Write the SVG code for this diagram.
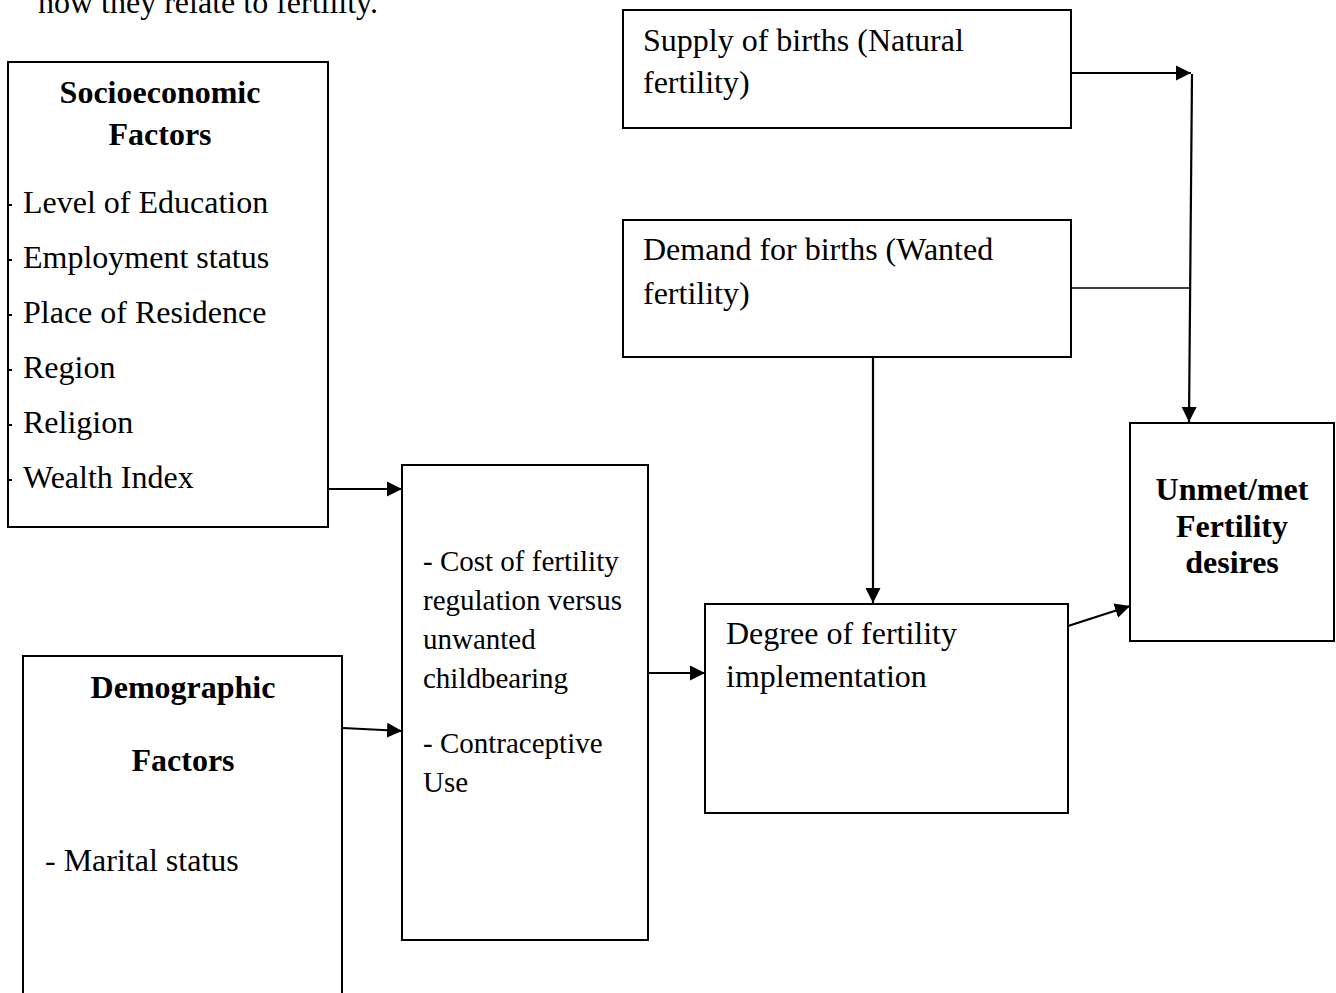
<svg xmlns="http://www.w3.org/2000/svg" width="1336" height="993" viewBox="0 0 1336 993">
<style>
.box{fill:#fff;stroke:#000;stroke-width:2}
.t{font-family:"Liberation Serif","Times New Roman",serif;font-size:32px;fill:#000}
.m{font-size:29px}
.b{font-weight:bold;text-anchor:middle}
.c{fill:none;stroke:#000;stroke-width:2.2}
</style>
<defs>
<marker id="ah" markerUnits="userSpaceOnUse" markerWidth="16" markerHeight="18" viewBox="0 0 16 18" refX="15" refY="9" orient="auto">
<path d="M0,1.5 L15,9 L0,16.5 Z" fill="#000"/>
</marker>
</defs>
<rect width="1336" height="993" fill="#fff"/>
<text class="t" x="38" y="13">how they relate to fertility.</text>

<g id="socioeconomic">
<rect class="box" x="8" y="62" width="320" height="465"/>
<text class="t b" x="160" y="103">Socioeconomic</text>
<text class="t b" x="160" y="145">Factors</text>
<g fill="#000">
<rect x="9" y="204" width="3" height="2"/>
<rect x="9" y="259" width="3" height="2"/>
<rect x="9" y="314" width="3" height="2"/>
<rect x="9" y="369" width="3" height="2"/>
<rect x="9" y="424" width="3" height="2"/>
<rect x="9" y="479" width="3" height="2"/>
</g>
<text class="t" x="23" y="213">Level of Education</text>
<text class="t" x="23" y="268">Employment status</text>
<text class="t" x="23" y="323">Place of Residence</text>
<text class="t" x="23" y="378">Region</text>
<text class="t" x="23" y="433">Religion</text>
<text class="t" x="23" y="488">Wealth Index</text>
</g>

<g id="demographic">
<rect class="box" x="23" y="656" width="319" height="345"/>
<text class="t b" x="183" y="698">Demographic</text>
<text class="t b" x="183" y="771">Factors</text>
<text class="t" x="45" y="871">- Marital status</text>
</g>

<g id="cost">
<rect class="box" x="402" y="465" width="246" height="475"/>
<text class="t m" x="423" y="571">- Cost of fertility</text>
<text class="t m" x="423" y="610">regulation versus</text>
<text class="t m" x="423" y="649">unwanted</text>
<text class="t m" x="423" y="688">childbearing</text>
<text class="t m" x="423" y="753">- Contraceptive</text>
<text class="t m" x="423" y="792">Use</text>
</g>

<g id="supply">
<rect class="box" x="623" y="10" width="448" height="118"/>
<text class="t" x="643" y="51">Supply of births (Natural</text>
<text class="t" x="643" y="93">fertility)</text>
</g>

<g id="demand">
<rect class="box" x="623" y="220" width="448" height="137"/>
<text class="t" x="643" y="260">Demand for births (Wanted</text>
<text class="t" x="643" y="304">fertility)</text>
</g>

<g id="degree">
<rect class="box" x="705" y="604" width="363" height="209"/>
<text class="t" x="726" y="644">Degree of fertility</text>
<text class="t" x="726" y="687">implementation</text>
</g>

<g id="unmet">
<rect class="box" x="1130" y="423" width="204" height="218"/>
<text class="t b" x="1232" y="500">Unmet/met</text>
<text class="t b" x="1232" y="537">Fertility</text>
<text class="t b" x="1232" y="573">desires</text>
</g>

<g id="connectors">
<line class="c" x1="1072" y1="73" x2="1191" y2="73" marker-end="url(#ah)"/>
<line class="c" x1="1192" y1="74" x2="1189" y2="422" marker-end="url(#ah)"/>
<line class="c" x1="1072" y1="288" x2="1190" y2="288" style="stroke-width:1.6"/>
<line class="c" x1="873" y1="357" x2="873" y2="603" marker-end="url(#ah)"/>
<line class="c" x1="329" y1="489" x2="402" y2="489" marker-end="url(#ah)"/>
<line class="c" x1="343" y1="728" x2="402" y2="731" marker-end="url(#ah)"/>
<line class="c" x1="649" y1="673" x2="705" y2="673" marker-end="url(#ah)"/>
<line class="c" x1="1068" y1="626" x2="1130" y2="606" marker-end="url(#ah)"/>
</g>
</svg>
